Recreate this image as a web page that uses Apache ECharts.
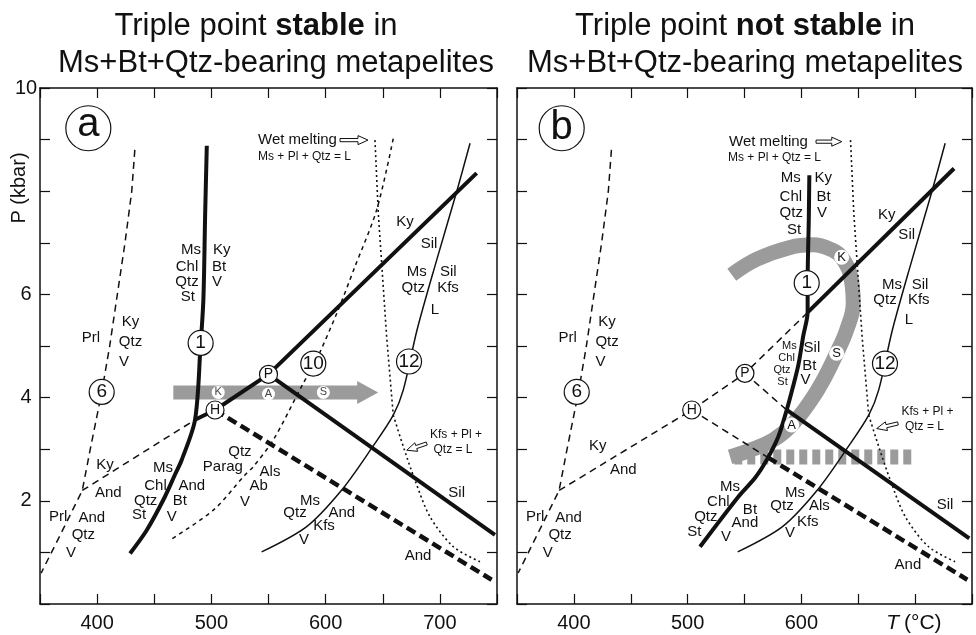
<!DOCTYPE html>
<html>
<head>
<meta charset="utf-8">
<title>Triple point stable / not stable</title>
<script src="https://cdn.jsdelivr.net/npm/echarts@6/dist/echarts.min.js"></script>
<style>
  html, body { margin: 0; padding: 0; background: #fff; }
  #main { width: 976px; height: 635px; }
</style>
</head>
<body>
<div id="main"></div>
<script>
// all points are [T (°C), P (kbar)]
const xLabelsA = [400, 500, 600, 700];
const xLabelsB = [400, 500, 600];   // 700 is replaced by the T (°C) caption
const yLabels = [2, 4, 6, 10];

// curves common to both panels
const prlOut = [[433,8.8],[430.3,8],[424.4,7],[417.7,6],[411,5],[404,4.1],[394,3.0],[387,2.2],[370,1.44],[351,0.6]];
const msOut = [[726.4,8.93],[714.7,7.99],[697,6.65],[680,5.31],[668,4.15],[659.2,3.66],[640.3,3.02],[614.1,2.21],[583.4,1.5],[544,1.01]];
const wetMelt = [[643.2,8.99],[646.1,7.57],[653.4,5.18],[659.2,3.66]];
const kfsMelt = [[659.2,3.66],[668,3.05],[678.2,2.4],[691.4,1.69],[711.8,1.11],[735.1,0.82]];

// panel a
const kyAndA = [[387,2.2],[485.7,3.57]];
const kySilA = [[485.7,3.57],[503.2,3.76],[550,4.45],[732.2,8.35]];
const andSilA = [[550,4.45],[748.2,1.34]];
const andSilHA = [[503.2,3.76],[745.3,0.47]];
const r1A = [[496,8.88],[494.5,7.5],[493,5.9],[490.5,5.0],[485.7,3.57],[474,2.79],[468,2.5],[458,2.02],[443.4,1.43],[428.8,0.98]];
const r10A = [[659.2,9.02],[644.7,7.64],[625.7,6.54],[609.7,5.63],[590.4,4.66],[580.5,4.28],[554.2,3.18],[536.7,2.66],[529.4,2.5],[501.7,1.82],[463.8,1.24]];
const pathA = [[466.7,4.1,646,4.1]];
const pathMarksA = [[506,4.1,'K'],[550,4.07,'A'],[598,4.1,'S']];
const circlesA = [[404,4.11,'6'],[490.6,5.06,'1'],[589.2,4.66,'10'],[673,4.7,'12']];
const pointsA = [[550,4.45,'P'],[503.2,3.76,'H']];

// panel b
const kyAndB = [[387,2.2],[503.6,3.76],[550.4,4.47],[606,5.66]];
const kySilB = [[606,5.66],[734.2,8.44]];
const andSilPB = [[550.4,4.47],[587.1,3.76]];
const andSilB = [[587.1,3.76],[747.6,1.27]];
const andSilHB1 = [[503.6,3.76],[570.5,2.84]];
const andSilHB2 = [[570.5,2.84],[745.9,0.47]];
const r1B = [[607,8.31],[606.5,7.44],[605.5,6.22],[605.5,5.66],[601.7,5.2],[597.5,4.65],[592.5,4.2],[587.1,3.76],[579.7,3.24],[569.5,2.79],[559.2,2.44],[544.6,2.08],[510.9,1.11]];
const pathB = [[538.8,6.38],[560.7,6.68],[590,6.91],[610.5,6.96],[628.1,6.85],[635.4,6.72],[642.7,6.41],[645.6,5.83],[639.8,5.31],[631,4.86],[619.3,4.34],[607.6,3.92],[591.5,3.47],[575.3,3.18],[554.8,2.98],[537.3,2.85]];
const pathDashB = [[541,2.85],[699,2.85]];
const pathMarksB = [[635.4,6.72,'K'],[631,4.86,'S'],[591.5,3.47,'A']];
const circlesB = [[402.5,4.11,'6'],[604.7,6.22,'1'],[673.5,4.66,'12']];
const pointsB = [[550.4,4.47,'P'],[503.6,3.76,'H']];

// [T, P, text, size, align]
const labelsA = [
  [394.6,5.16,'Prl'],[429.2,5.47,'Ky'],[429.2,5.08,'Qtz'],[423.5,4.69,'V'],
  [406.9,2.69,'Ky'],[409.8,2.15,'And'],
  [366,1.69,'Prl'],[395.3,1.66,'And'],[387.9,1.34,'Qtz'],[377.1,0.99,'V'],
  [482.2,6.86,'Ms'],[478.7,6.54,'Chl'],[478.7,6.25,'Qtz'],[479.5,5.96,'St'],
  [509,6.86,'Ky'],[506.7,6.54,'Bt'],[504.9,6.25,'V'],
  [457.7,2.63,'Ms'],[451.1,2.29,'Chl'],[442.5,2.0,'Qtz'],[436.7,1.72,'St'],
  [482.8,2.29,'And'],[472.3,2.0,'Bt'],[465.3,1.69,'V'],
  [525,2.94,'Qtz'],[510,2.66,'Parag'],[529.4,1.98,'V'],[551.3,2.56,'Als'],[541.4,2.29,'Ab'],
  [586.3,2.0,'Ms'],[573.2,1.77,'Qtz'],[581.1,1.25,'V'],[614.1,1.77,'And'],[598.6,1.51,'Kfs'],
  [714.7,2.16,'Sil'],[680.9,0.93,'And'],
  [669.5,7.41,'Ky'],[690.5,6.98,'Sil'],
  [679.7,6.44,'Ms'],[676.7,6.12,'Qtz'],[707.4,6.44,'Sil'],[707.1,6.12,'Kfs'],[695.7,5.71,'L'],
  [714.1,3.29,'Kfs + Pl +',12],[711.5,3.0,'Qtz = L',12],
  [540.8,8.99,'Wet melting',15,'left'],[540.8,8.66,'Ms + Pl + Qtz = L',12,'left']
];
const labelsB = [
  [394.6,5.16,'Prl'],[429.2,5.47,'Ky'],[429.2,5.08,'Qtz'],[423.5,4.69,'V'],
  [421,3.06,'Ky'],[443.5,2.6,'And'],
  [366,1.69,'Prl'],[395.3,1.66,'And'],[387.9,1.34,'Qtz'],[377.1,0.99,'V'],
  [590.6,8.25,'Ms'],[590.7,7.89,'Chl'],[591.1,7.58,'Qtz'],[593.5,7.26,'St'],
  [619.3,8.25,'Ky'],[619.6,7.89,'Bt'],[618.1,7.58,'V'],
  [589.4,5.0,'Ms',11],[587,4.76,'Chl',11],[583,4.53,'Qtz',11],[583.4,4.31,'St',11],
  [609.3,4.96,'Sil'],[607,4.61,'Bt'],[603.6,4.34,'V'],
  [537.3,2.27,'Ms'],[527,1.98,'Chl'],[516,1.68,'Qtz'],[505.8,1.4,'St'],
  [554.8,1.82,'Bt'],[550.4,1.58,'And'],[533.7,1.3,'V'],
  [594.4,2.16,'Ms'],[583,1.9,'Qtz'],[615.8,1.9,'Als'],[605.6,1.6,'Kfs'],[590,1.38,'V'],
  [726.3,1.92,'Sil'],[693.7,0.76,'And'],
  [710.9,3.73,'Kfs + Pl +',12],[708.2,3.44,'Qtz = L',12],
  [675,7.54,'Ky'],[692.6,7.15,'Sil'],
  [679.7,6.18,'Ms'],[673.5,5.89,'Qtz'],[704.3,6.18,'Sil'],[703.2,5.89,'Kfs'],[694.6,5.5,'L'],
  [536.4,8.96,'Wet melting',15,'left'],[535.5,8.64,'Ms + Pl + Qtz = L',12,'left']
];
// hollow pointer arrows [T1, P1, T2 (tip), P2]
const arrowsA = [[612.6,8.99,637.1,8.99],[688.5,3.11,671,2.98]];
const arrowsB = [[612.9,8.96,635.5,8.96],[684.9,3.5,666.2,3.4]];
const panelTags = [[392.3,9.22,'a'],[389.3,9.22,'b']];

const FONT = '"Liberation Sans", Arial, Helvetica, sans-serif';
const INK = '#111';
const GRAY = '#9b9b9b';

const chart = echarts.init(document.getElementById('main'));

function xAxisFor(g, pos) {
  const shown = g === 0 ? xLabelsA : xLabelsB;
  return {
    gridIndex: g, type: 'value', min: 350, max: 750, interval: 50, position: pos,
    axisLine: { show: true, onZero: false, lineStyle: { color: INK, width: 1.5 } },
    axisTick: { show: true, inside: true, length: 10, lineStyle: { color: INK, width: 1.2 } },
    axisLabel: { show: pos === 'bottom', margin: 9, fontSize: 20, color: INK, fontFamily: FONT,
      formatter: v => shown.indexOf(v) >= 0 ? String(v) : '' },
    splitLine: { show: false }
  };
}
function yAxisFor(g, pos) {
  return {
    gridIndex: g, type: 'value', min: 0, max: 10, interval: 1, position: pos,
    axisLine: { show: true, onZero: false, lineStyle: { color: INK, width: 1.5 } },
    axisTick: { show: true, inside: true, length: 10, lineStyle: { color: INK, width: 1.2 } },
    axisLabel: { show: g === 0 && pos === 'left', margin: 14, align: 'center', fontSize: 20, color: INK, fontFamily: FONT,
      formatter: v => yLabels.indexOf(v) >= 0 ? String(v) : '' },
    splitLine: { show: false }
  };
}

function line(g, data, width, dash, smooth, color, z) {
  return {
    type: 'line', xAxisIndex: g * 2, yAxisIndex: g * 2, data: data,
    symbol: 'none', smooth: smooth || false, silent: true, animation: false,
    lineStyle: { color: color || INK, width: width, type: dash || 'solid', cap: 'butt' },
    z: z || 3
  };
}

function custom(g, list, draw, z) {
  return {
    type: 'custom', coordinateSystem: 'cartesian2d', xAxisIndex: g * 2, yAxisIndex: g * 2,
    data: list.map(d => [d[0], d[1]]), silent: true, animation: false, z: z,
    renderItem: (params, api) => draw(list[params.dataIndex], api)
  };
}

function circles(g, list, r, size, opt) {
  opt = opt || {};
  return custom(g, list, (d, api) => {
    const p = api.coord([d[0], d[1]]);
    return { type: 'group', children: [
      { type: 'circle', shape: { cx: p[0], cy: p[1], r: r },
        style: { fill: '#fff', stroke: opt.noStroke ? null : INK, lineWidth: 1.2 } },
      { type: 'text', x: p[0], y: p[1] + (opt.dy || 0),
        style: { text: d[2], fontSize: size, fontFamily: FONT, fill: opt.color || INK, align: 'center', verticalAlign: 'middle' } }
    ] };
  }, 6);
}

function labels(g, list) {
  return custom(g, list, (d, api) => {
    const p = api.coord([d[0], d[1]]);
    return { type: 'text', x: p[0], y: p[1],
      style: { text: d[2], fontSize: d[3] || 15, fontFamily: FONT, fill: INK, align: d[4] || 'center', verticalAlign: 'middle' } };
  }, 7);
}

function arrowShape(p1, p2, w, hw, hl) {
  const dx = p2[0] - p1[0], dy = p2[1] - p1[1];
  const L = Math.sqrt(dx * dx + dy * dy);
  const ux = dx / L, uy = dy / L, nx = -uy, ny = ux;
  const bx = p1[0] + ux * (L - hl), by = p1[1] + uy * (L - hl);
  return [
    [p1[0] + nx * w, p1[1] + ny * w], [bx + nx * w, by + ny * w], [bx + nx * hw, by + ny * hw],
    [p2[0], p2[1]],
    [bx - nx * hw, by - ny * hw], [bx - nx * w, by - ny * w], [p1[0] - nx * w, p1[1] - ny * w]
  ];
}

function arrows(g, list, w, hw, hl, fill, stroke, z) {
  return custom(g, list, (d, api) => {
    const p1 = api.coord([d[0], d[1]]), p2 = api.coord([d[2], d[3]]);
    return { type: 'polygon', shape: { points: arrowShape(p1, p2, w, hw, hl) },
      style: { fill: fill, stroke: stroke, lineWidth: 1 } };
  }, z);
}

const thinDash = [7, 5];
const thickDash = [10, 5];
const shortDash = [4, 4];
const dots = [2, 3];

const series = [
  // panel a
  arrows(0, pathA, 7, 11.5, 21, GRAY, null, 1),
  line(0, prlOut, 1.5, thinDash),
  line(0, kyAndA, 1.5, thinDash),
  line(0, kySilA, 4),
  line(0, andSilA, 4),
  line(0, andSilHA, 4.5, thickDash),
  line(0, r1A, 4, 'solid', 0.3),
  line(0, r10A, 1.5, shortDash, 0.3),
  line(0, msOut, 1.5, 'solid', 0.3),
  line(0, wetMelt, 1.6, dots),
  line(0, kfsMelt, 1.6, dots, 0.3),
  circles(0, pathMarksA, 6.5, 11, { noStroke: true, color: '#444' }),
  circles(0, circlesA, 12.5, 19),
  circles(0, pointsA, 9, 14),
  circles(0, [panelTags[0]], 22.5, 40, { dy: -3 }),
  labels(0, labelsA),
  arrows(0, arrowsA, 1.6, 4.5, 10, '#fff', INK, 7),
  // panel b
  line(1, pathB, 15, 'solid', 0.4, GRAY, 1),
  line(1, pathDashB, 15, [8, 5], false, GRAY, 1),
  line(1, prlOut, 1.5, thinDash),
  line(1, kyAndB, 1.5, thinDash),
  line(1, kySilB, 4),
  line(1, andSilPB, 1.5, thinDash),
  line(1, andSilB, 4),
  line(1, andSilHB1, 1.5, thinDash),
  line(1, andSilHB2, 4.5, thickDash),
  line(1, r1B, 4, 'solid', 0.3),
  line(1, msOut, 1.5, 'solid', 0.3),
  line(1, wetMelt, 1.6, dots),
  line(1, kfsMelt, 1.6, dots, 0.3),
  circles(1, pathMarksB, 7.5, 13, { noStroke: true }),
  circles(1, circlesB, 12.5, 19),
  circles(1, pointsB, 9, 14),
  circles(1, [panelTags[1]], 22.5, 40),
  labels(1, labelsB),
  arrows(1, arrowsB, 1.6, 4.5, 10, '#fff', INK, 7)
];

const titleRich = {
  n: { fontSize: 31, fontFamily: FONT, fill: INK },
  b: { fontSize: 31, fontFamily: FONT, fill: INK, fontWeight: 'bold' }
};
function plain(x, y, text, size, align, extra) {
  return Object.assign({ type: 'text', x: x, y: y,
    style: { text: text, fontSize: size, fontFamily: FONT, fill: INK, align: align || 'center', verticalAlign: 'middle' } }, extra || {});
}

chart.setOption({
  animation: false,
  backgroundColor: '#fff',
  grid: [
    { left: 40, top: 88, width: 457, height: 516 },
    { left: 517, top: 88, width: 455, height: 516 }
  ],
  xAxis: [xAxisFor(0, 'bottom'), xAxisFor(0, 'top'), xAxisFor(1, 'bottom'), xAxisFor(1, 'top')],
  yAxis: [yAxisFor(0, 'left'), yAxisFor(0, 'right'), yAxisFor(1, 'left'), yAxisFor(1, 'right')],
  graphic: [
    { type: 'text', x: 256, y: 26, style: { text: '{n|Triple point }{b|stable}{n| in}', rich: titleRich, align: 'center', verticalAlign: 'middle' } },
    plain(276, 63, 'Ms+Bt+Qtz-bearing metapelites', 31),
    { type: 'text', x: 745, y: 26, style: { text: '{n|Triple point }{b|not stable}{n| in}', rich: titleRich, align: 'center', verticalAlign: 'middle' } },
    plain(745, 63, 'Ms+Bt+Qtz-bearing metapelites', 31),
    plain(19, 188, 'P (kbar)', 20, 'center', { rotation: Math.PI / 2 }),
    { type: 'text', x: 899, y: 623, style: { text: 'T', fontSize: 21, fontFamily: FONT, fontStyle: 'italic', fill: INK, align: 'right', verticalAlign: 'middle' } },
    plain(904, 623, '(°C)', 21, 'left')
  ],
  series: series
});

window.addEventListener('resize', function () { chart.resize(); });
</script>
</body>
</html>
